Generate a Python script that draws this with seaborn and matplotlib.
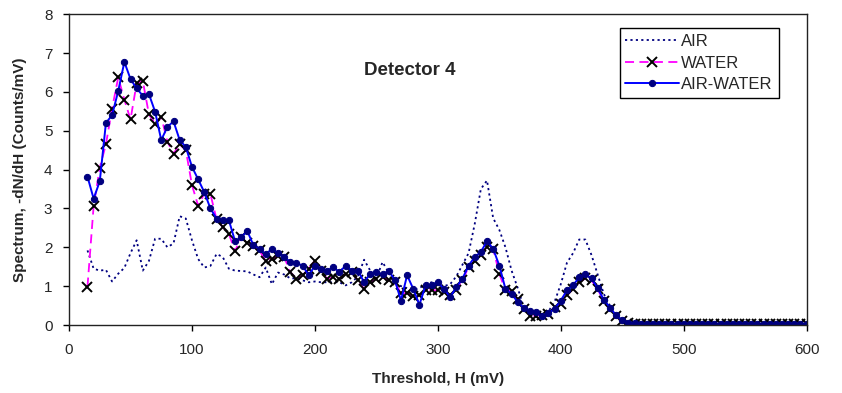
import numpy as np
import pandas as pd
import matplotlib
matplotlib.use("Agg")
import matplotlib.pyplot as plt
import seaborn as sns

# threshold grid (mV), one reading every 5 mV
threshold = list(range(15, 605, 5))

air_water = [3.82, 3.25, 3.70, 5.20, 5.40, 6.02, 6.77, 6.33, 6.09, 5.90,
             5.94, 5.49, 4.76, 5.10, 5.24, 4.76, 4.58, 4.07, 3.75, 3.42,
             3.00, 2.74, 2.69, 2.70, 2.16, 2.26, 2.42, 2.05, 1.96, 1.82,
             1.96, 1.85, 1.75, 1.62, 1.59, 1.53, 1.28, 1.53, 1.45, 1.40,
             1.49, 1.36, 1.53, 1.40, 1.40, 1.10, 1.32, 1.36, 1.30, 1.40,
             1.16, 0.63, 1.28, 0.93, 0.52, 1.02, 1.04, 1.10, 0.93, 0.72,
             0.97, 1.19, 1.53, 1.75, 1.88, 2.16, 1.96, 1.53, 0.93, 0.80,
             0.59, 0.44, 0.37, 0.33, 0.22, 0.30, 0.42, 0.63, 0.89, 1.02,
             1.23, 1.30, 1.20, 0.95, 0.65, 0.45, 0.25, 0.12, 0.06, 0.04] + [0.03] * 28

water = [0.99, 3.06, 4.05, 4.65, 5.57, 6.37, 5.80, 5.29, 6.22, 6.28,
         5.42, 5.18, 5.36, 4.72, 4.41, 4.65, 4.50, 3.60, 3.07, 3.38,
         3.37, 2.72, 2.52, 2.35, 1.90, 2.26, 2.10, 2.04, 1.92, 1.64,
         1.70, 1.77, 1.75, 1.36, 1.19, 1.28, 1.45, 1.66, 1.40, 1.19,
         1.23, 1.19, 1.32, 1.36, 1.15, 0.93, 1.10, 1.19, 1.23, 1.15,
         1.10, 0.82, 0.82, 0.74, 0.76, 0.90, 0.90, 0.89, 0.85, 0.76,
         0.90, 1.15, 1.49, 1.66, 1.79, 2.00, 1.96, 1.32, 0.89, 0.87,
         0.67, 0.42, 0.24, 0.24, 0.27, 0.28, 0.46, 0.55, 0.76, 0.93,
         1.10, 1.20, 1.15, 0.92, 0.62, 0.40, 0.22, 0.10, 0.05, 0.02] + [0.02] * 28

air = [1.92, 1.45, 1.40, 1.42, 1.12, 1.32, 1.47, 1.85, 2.18, 1.40,
       1.65, 2.22, 2.22, 2.00, 2.10, 2.80, 2.74, 2.18, 1.70, 1.48,
       1.52, 1.83, 1.75, 1.45, 1.40, 1.39, 1.38, 1.30, 1.23, 1.48,
       1.05, 1.35, 1.30, 1.20, 1.20, 1.15, 1.10, 1.12, 1.10, 1.10,
       1.10, 1.10, 1.02, 1.10, 1.25, 1.68, 1.40, 1.20, 1.62, 1.35,
       1.15, 1.00, 0.95, 0.90, 0.95, 1.05, 1.10, 1.05, 1.00, 1.05,
       1.25, 1.55, 1.85, 2.60, 3.50, 3.72, 2.75, 2.45, 2.00, 1.40,
       0.95, 0.45, 0.25, 0.20, 0.25, 0.35, 0.60, 1.05, 1.60, 1.85,
       2.20, 2.20, 1.80, 1.30, 0.80, 0.50, 0.25, 0.12, 0.06, 0.03] + [0.02] * 28

df = pd.DataFrame({"H": threshold, "AIR": air, "WATER": water, "AIR-WATER": air_water})

sns.set_style("ticks")
plt.rcParams["font.family"] = ["Liberation Sans", "DejaVu Sans"]

fig = plt.figure(figsize=(8.42, 3.93), dpi=100)
ax = fig.add_axes([0.082, 0.173, 0.876, 0.791])

sns.lineplot(data=df, x="H", y="AIR", ax=ax, color="#000080", lw=1.3,
             linestyle=(0, (1.2, 1.8)), label="AIR")
sns.lineplot(data=df, x="H", y="WATER", ax=ax, color="#FF00FF", lw=1.3,
             linestyle=(0, (5, 3)), marker="x", markersize=7.5, markeredgewidth=1.4,
             markeredgecolor="black", label="WATER")
sns.lineplot(data=df, x="H", y="AIR-WATER", ax=ax, color="#0000FF", lw=1.4,
             marker="o", markersize=4.5, markerfacecolor="#000080",
             markeredgecolor="#000080", label="AIR-WATER")

ax.set_xlim(0, 600)
ax.set_ylim(0, 8)
ax.set_xticks(range(0, 601, 100))
ax.set_yticks(range(0, 9))
ax.tick_params(labelsize=11, length=4, width=1, color="black")
ax.tick_params(axis="x", pad=9)
ax.tick_params(axis="y", pad=8)
for s in ax.spines.values():
    s.set_color("#222222")
    s.set_linewidth(1)

ax.set_xlabel("Threshold, H (mV)", fontsize=11, fontweight="bold", labelpad=11)
ax.set_ylabel("Spectrum, -dN/dH (Counts/mV)", fontsize=11, fontweight="bold", labelpad=12)
ax.text(277, 6.55, "Detector 4", fontsize=13.5, fontweight="bold", ha="center", va="center")

leg = ax.legend(loc="upper right", bbox_to_anchor=(0.962, 0.955), fontsize=12,
                frameon=True, fancybox=False, edgecolor="black", framealpha=1,
                handlelength=3.2, borderpad=0.35, borderaxespad=0, labelspacing=0.4,
                handletextpad=0.15)
leg.get_frame().set_linewidth(1)

fig.savefig("out.png", dpi=100)
